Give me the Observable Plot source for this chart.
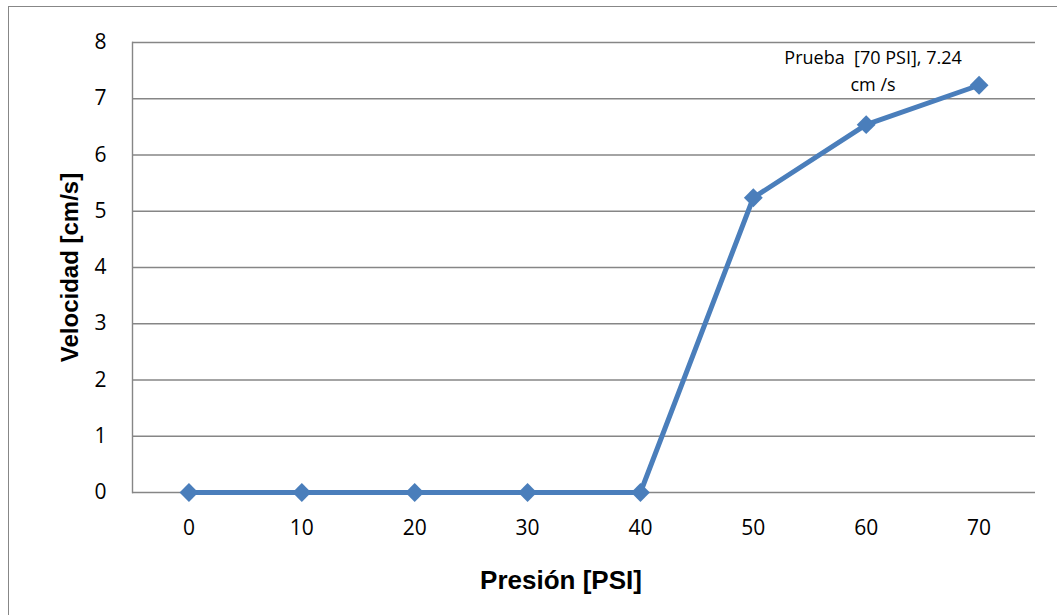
<!DOCTYPE html>
<html>
<head>
<meta charset="utf-8">
<script src="https://cdn.jsdelivr.net/npm/d3@7"></script>
<script src="https://cdn.jsdelivr.net/npm/@observablehq/plot@0.6"></script>
<style>
  html, body { margin: 0; padding: 0; background: #fff; overflow: hidden; }
  #wrap { position: relative; width: 1057px; height: 615px; }
  #border { position: absolute; left: 8px; top: 6px; width: 2000px; height: 2000px;
            border-left: 1.5px solid #878787; border-top: 1.5px solid #878787; }
  #chart { position: absolute; left: 0; top: 0; }
  #chart svg [aria-label="y-axis label"] {
    font-family: "Liberation Sans", Arial, sans-serif; font-weight: bold; font-size: 24px;
  }
</style>
</head>
<body>
<div id="wrap"><div id="border"></div><div id="chart"></div></div>
<script>
// Pressure (PSI) categories and measured velocity (cm/s)
const pressures = [0, 10, 20, 30, 40, 50, 60, 70];
const velocities = [0, 0, 0, 0, 0, 5.24, 6.54, 7.24];
const yTicks = [0, 1, 2, 3, 4, 5, 6, 7, 8];
const xTitle = "Presión [PSI]";
const yTitle = "Velocidad [cm/s]";

const data = pressures.map((p, i) => ({p, v: velocities[i]}));
const last = data[data.length - 1];

const blue = "#4A7EBB";
const grid = "#868686";

const chart = Plot.plot({
  width: 1057,
  height: 615,
  marginLeft: 132,
  marginRight: 22,
  marginTop: 42,
  marginBottom: 123,
  style: {fontFamily: "'Open Sans', sans-serif", fontSize: "21px", color: "#000", background: "transparent", overflow: "visible"},
  x: {type: "point", domain: pressures, padding: 0.5, round: false},
  y: {domain: [0, 8], label: yTitle},
  marks: [
    Plot.gridY(yTicks, {stroke: grid, strokeOpacity: 1, strokeWidth: 1.4}),
    Plot.frame({anchor: "left", stroke: grid, strokeWidth: 1.4}),
    Plot.axisX({tickSize: 0, tickPadding: 28, label: null}),
    Plot.axisY(yTicks, {tickSize: 0, tickPadding: 26, tickFormat: d3.format("d"), label: yTitle, labelAnchor: "center", labelArrow: "none", labelOffset: 72}),
    // x-axis title, set slightly left of the plot centre
    Plot.text([xTitle], {
      text: d => d, frameAnchor: "bottom", lineAnchor: "top", dy: 78, dx: -23,
      fontFamily: "'Liberation Sans', Arial, sans-serif", fontWeight: "bold", fontSize: 26, fill: "#000"
    }),
    Plot.line(data, {x: "p", y: "v", stroke: blue, strokeWidth: 5}),
    Plot.dot(data, {x: "p", y: "v", symbol: "diamond2", r: 8.5, fill: blue, stroke: "none"}),
    Plot.text([last], {
      x: "p", y: "v",
      text: d => `Prueba  [${d.p} PSI], ${d.v}\ncm /s`,
      dx: -106, dy: -40, lineAnchor: "top", lineHeight: 1.5,
      fontSize: 18, fill: "#000"
    })
  ]
});
document.getElementById("chart").append(chart);
</script>
</body>
</html>
